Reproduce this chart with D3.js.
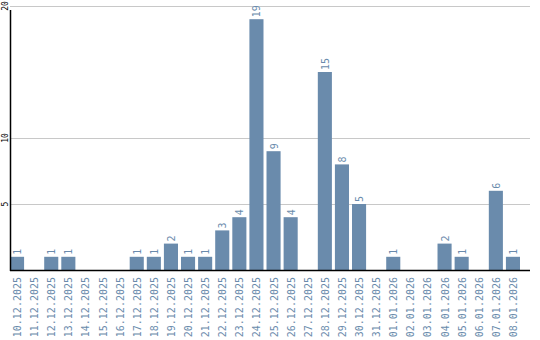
<!DOCTYPE html>
<html>
<head>
<meta charset="utf-8">
<script src="https://cdn.jsdelivr.net/npm/d3@7"></script>
<style>
  body { margin: 0; background: #fff; }
  svg { display: block; }
</style>
</head>
<body>
<svg width="540" height="340"></svg>
<script>
"use strict";
const dates = ["10.12.2025","11.12.2025","12.12.2025","13.12.2025","14.12.2025","15.12.2025",
  "16.12.2025","17.12.2025","18.12.2025","19.12.2025","20.12.2025","21.12.2025","22.12.2025",
  "23.12.2025","24.12.2025","25.12.2025","26.12.2025","27.12.2025","28.12.2025","29.12.2025",
  "30.12.2025","31.12.2025","01.01.2026","02.01.2026","03.01.2026","04.01.2026","05.01.2026",
  "06.01.2026","07.01.2026","08.01.2026"];
const counts = [1,0,1,1,0,0,0,1,1,2,1,1,3,4,19,9,4,0,15,8,5,0,1,0,0,2,1,0,6,1];
const yTicks = [5, 10, 20];

let svg = d3.select("svg");
let margin = {top: 6, right: 10, bottom: 70, left: 10};
let width = 540, height = 340;
let barColor = "#6a8bac";

let x = d3.scaleBand()
  .domain(dates)
  .range([margin.left, margin.left + 17 * dates.length])
  .paddingInner(3 / 17)
  .paddingOuter(0)
  .align(0);
let y = d3.scaleLinear([0, 20], [height - margin.bottom, margin.top]);

// gridlines
svg.append("g")
  .selectAll("line")
  .data(yTicks)
  .join("line")
    .attr("x1", margin.left)
    .attr("x2", width - margin.right)
    .attr("y1", d => Math.round(y(d)) + 0.5)
    .attr("y2", d => Math.round(y(d)) + 0.5)
    .attr("stroke", "#c8c8c8");

// y tick labels (rotated)
svg.append("g")
  .style("font", "8px 'DejaVu Sans Mono', monospace")
  .selectAll("text")
  .data(yTicks)
  .join("text")
    .attr("transform", d => `translate(8,${Math.round(y(d))}) rotate(-90)`)
    .attr("text-anchor", "middle")
    .attr("fill", "#000")
    .text(d => d);

// bars
svg.append("g")
  .attr("fill", barColor)
  .selectAll("rect")
  .data(counts.map((v, i) => ({date: dates[i], value: v})).filter(d => d.value > 0))
  .join("rect")
    .attr("x", d => x(d.date))
    .attr("y", d => y(d.value))
    .attr("width", x.bandwidth())
    .attr("height", d => y(0) - y(d.value));

// value labels
svg.append("g")
  .style("font", "10px 'DejaVu Sans Mono', monospace")
  .attr("fill", barColor)
  .selectAll("text")
  .data(counts.map((v, i) => ({date: dates[i], value: v})).filter(d => d.value > 0))
  .join("text")
    .attr("transform", d => `translate(${x(d.date) + x.bandwidth() / 2 + 4},${y(d.value) - 2}) rotate(-90)`)
    .text(d => d.value);

// date labels
svg.append("g")
  .style("font", "10px 'DejaVu Sans Mono', monospace")
  .attr("fill", barColor)
  .attr("text-anchor", "end")
  .selectAll("text")
  .data(dates)
  .join("text")
    .attr("transform", d => `translate(${x(d) + x.bandwidth() / 2 + 4},${y(0) + 7}) rotate(-90)`)
    .text(d => d);

// axes lines
svg.append("line")
  .attr("x1", margin.left + 0.5).attr("x2", margin.left + 0.5)
  .attr("y1", 10).attr("y2", y(0) + 1)
  .attr("stroke", "#000").attr("stroke-width", 1.5);
svg.append("line")
  .attr("x1", margin.left).attr("x2", width - margin.right)
  .attr("y1", y(0) + 0.5).attr("y2", y(0) + 0.5)
  .attr("stroke", "#000").attr("stroke-width", 1.5);
</script>
</body>
</html>
